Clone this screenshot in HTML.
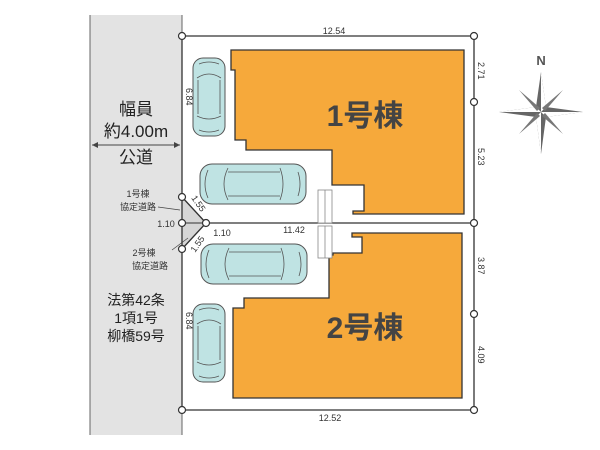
<!DOCTYPE html>
<html><head><meta charset="utf-8"><style>
body{margin:0;background:#fff;}
svg{display:block;font-family:"Liberation Sans","Noto Sans CJK JP",sans-serif;}
</style></head><body>
<svg width="600" height="450" viewBox="0 0 600 450">
<defs>
<g id="carh">
<rect x="0" y="0" width="106" height="40" rx="12" fill="#bfe3e3" stroke="#555" stroke-width="1"/>
<path d="M28 4 Q20 20 28 36 M80 4 Q86 20 80 36 M28 8 L80 8 M28 32 L80 32 M8 6 Q2 20 8 34 M98 8 Q102 20 98 32" fill="none" stroke="#555" stroke-width="0.8"/>
</g>
<g id="carv">
<rect x="0" y="0" width="32" height="78" rx="10" fill="#bfe3e3" stroke="#555" stroke-width="1"/>
<path d="M4 20 Q16 12 28 20 M4 58 Q16 64 28 58 M5 22 L5 56 M27 22 L27 56 M6 6 Q16 2 26 6 M6 72 Q16 76 26 72" fill="none" stroke="#555" stroke-width="0.8"/>
</g>
</defs>
<rect x="90" y="15" width="92" height="420" fill="#e3e3e3"/>
<line x1="90" y1="15" x2="90" y2="435" stroke="#666" stroke-width="1"/>
<line x1="182" y1="15" x2="182" y2="435" stroke="#666" stroke-width="1"/>
<polygon points="182,197 182,249 206,223" fill="#d6d6d6"/>
<text x="136" y="115" font-size="17" text-anchor="middle" fill="#222">幅員</text>
<text x="136" y="137" font-size="17" text-anchor="middle" fill="#222">約4.00m</text>
<line x1="92" y1="145" x2="180" y2="145" stroke="#444"/>
<path d="M92 145 l6 -3 v6z M180 145 l-6 -3 v6z" fill="#444"/>
<text x="136" y="163" font-size="17" text-anchor="middle" fill="#222">公道</text>
<text x="136" y="305" font-size="14" text-anchor="middle" fill="#222">法第42条</text>
<text x="136" y="323" font-size="14" text-anchor="middle" fill="#222">1項1号</text>
<text x="136" y="341" font-size="14" text-anchor="middle" fill="#222">柳橋59号</text>
<g font-size="9" fill="#333" text-anchor="middle">
<text x="138" y="197">1号棟</text><text x="138" y="210">協定道路</text>
<text x="144" y="256">2号棟</text><text x="150" y="269">協定道路</text>
<text x="166" y="227">1.10</text>
<text x="222" y="236">1.10</text>
<text x="294" y="233">11.42</text>
<text x="334" y="34">12.54</text>
<text x="330" y="421">12.52</text>
</g>
<line x1="158" y1="207" x2="180" y2="210" stroke="#444" stroke-width="0.7"/>
<line x1="172" y1="250" x2="188" y2="238" stroke="#444" stroke-width="0.7"/>
<polyline points="182,36 474,36 474,410 182,410 182,36" fill="none" stroke="#333" stroke-width="1.3"/>
<line x1="206" y1="223" x2="474" y2="223" stroke="#333" stroke-width="1.3"/>
<line x1="182" y1="223" x2="206" y2="223" stroke="#333" stroke-width="1"/>
<line x1="182" y1="197" x2="206" y2="223" stroke="#333" stroke-width="1.3"/>
<line x1="182" y1="249" x2="206" y2="223" stroke="#333" stroke-width="1.3"/>
<g fill="#fff" stroke="#333" stroke-width="1.2">
<circle cx="182" cy="36" r="3.5"/><circle cx="474" cy="36" r="3.5"/><circle cx="474" cy="102" r="3.5"/>
<circle cx="474" cy="223" r="3.5"/><circle cx="474" cy="314" r="3.5"/><circle cx="474" cy="410" r="3.5"/>
<circle cx="182" cy="410" r="3.5"/><circle cx="182" cy="197" r="3.5"/><circle cx="182" cy="223" r="3.5"/>
<circle cx="182" cy="249" r="3.5"/><circle cx="206" cy="223" r="3.5"/>
</g>
<g font-size="9" fill="#333">
<text transform="translate(478,62) rotate(90)">2.71</text>
<text transform="translate(478,148) rotate(90)">5.23</text>
<text transform="translate(478,257) rotate(90)">3.87</text>
<text transform="translate(478,346) rotate(90)">4.09</text>
<text transform="translate(191,198) rotate(55)">1.55</text>
<text transform="translate(195,253) rotate(-55)">1.55</text>
<text transform="translate(186,88) rotate(90)">6.84</text>
<text transform="translate(186,312) rotate(90)">6.84</text>
</g>
<polygon points="231,50 464,50 464,214 353,214 353,211 364,211 364,185 332,185 332,150 246,150 246,140 235,140 235,70 231,70" fill="#f6a93b" stroke="#333" stroke-width="1.3"/>
<polygon points="352,233 462,233 462,398 233,398 233,308 244,308 244,298 329,298 329,255 333,255 333,253 362,253 362,237 352,237" fill="#f6a93b" stroke="#333" stroke-width="1.3"/>
<text x="365" y="126" font-size="30" font-weight="bold" fill="#444" text-anchor="middle">1号棟</text>
<text x="365" y="338" font-size="30" font-weight="bold" fill="#444" text-anchor="middle">2号棟</text>
<g fill="#fff" stroke="#888" stroke-width="0.8">
<rect x="318" y="190" width="14" height="33"/><rect x="318" y="226" width="14" height="32"/>
<line x1="325" y1="190" x2="325" y2="223"/><line x1="325" y1="226" x2="325" y2="258"/>
</g>
<use href="#carv" x="193" y="58"/>
<use href="#carh" x="200" y="164"/>
<use href="#carh" x="201" y="244"/>
<use href="#carv" x="193" y="304"/>
<g transform="translate(541,112)">
<text x="0" y="-47" font-size="13" font-weight="bold" fill="#555" text-anchor="middle">N</text>
<polygon points="0,-40 5,-5 42,0 5,5 0,42 -5,5 -42,0 -5,-5" fill="#666"/>
<polygon points="0,-40 5,-5 0,0" fill="#fff"/><polygon points="42,0 5,5 0,0" fill="#fff"/>
<polygon points="0,42 -5,5 0,0" fill="#fff"/><polygon points="-42,0 -5,-5 0,0" fill="#fff"/>
<polygon points="22,-22 4,-1 1,-4" fill="#777"/><polygon points="22,22 1,4 4,1" fill="#777"/>
<polygon points="-22,22 -4,1 -1,4" fill="#777"/><polygon points="-22,-22 -1,-4 -4,-1" fill="#777"/>
</g>
</svg>
</body></html>
